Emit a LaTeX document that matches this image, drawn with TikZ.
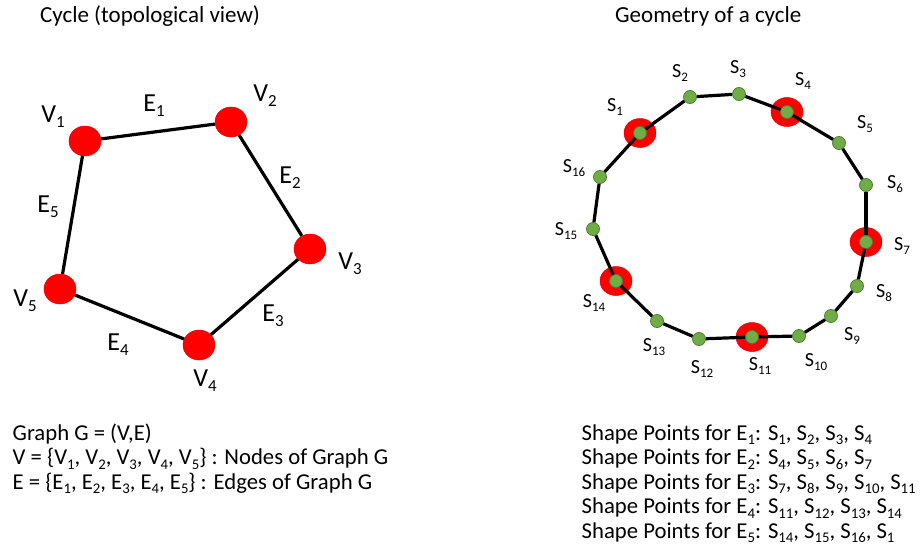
\documentclass[tikz,border=0pt]{standalone}
\usepackage{fontspec}
\setmainfont{Carlito}
\usetikzlibrary{shapes.geometric}
\definecolor{sgreen}{HTML}{70AD47}
\definecolor{sgreenD}{HTML}{507E32}
\newcommand\sbs[1]{\raisebox{-0.2em}{\scalebox{0.65}{#1}}}
\begin{document}
\begin{tikzpicture}[x=1pt,y=-1pt,
  vtx/.style={ellipse, fill=red, draw=red!90!black, line width=0.5pt, minimum width=32pt, minimum height=30pt, inner sep=0pt},
  bigv/.style={ellipse, fill=red, draw=red!90!black, line width=0.5pt, minimum width=32pt, minimum height=29pt, inner sep=0pt},
  sp/.style={circle, fill=sgreen, draw=sgreenD, line width=0.8pt, minimum size=13pt, inner sep=0pt},
  edg/.style={line width=3.2pt, black},
  vlab/.style={inner sep=0pt, font=\fontsize{26}{30}\selectfont},
  slab/.style={inner sep=0pt, font=\fontsize{20}{24}\selectfont},
  txt/.style={inner sep=0pt, anchor=base west, font=\fontsize{22.7}{26}\selectfont},
  ttl/.style={inner sep=0pt, anchor=base west, font=\fontsize{23}{26}\selectfont},
]
\useasboundingbox (0,0) rectangle (920,559);

% titles
\node[ttl] (t1) at (40,23) {Cycle (topological view)};
\node[ttl] (t2) at (615,23) {Geometry of a cycle};

% left graph
\node[vtx] (V1) at (85,141) {};
\node[vtx] (V2) at (231,122) {};
\node[vtx] (V3) at (310,249) {};
\node[vtx] (V4) at (199,345) {};
\node[vtx] (V5) at (60,289) {};
\draw[edg] (V1) -- (V2);
\draw[edg] (V2) -- (V3);
\draw[edg] (V3) -- (V4);
\draw[edg] (V4) -- (V5);
\draw[edg] (V5) -- (V1);

\node[vlab] (lv1) at (53,117) {V\sbs{1}};
\node[vlab] (lv2) at (265,96) {V\sbs{2}};
\node[vlab] (lv3) at (350,264) {V\sbs{3}};
\node[vlab] (lv4) at (205,381) {V\sbs{4}};
\node[vlab] (lv5) at (25,301) {V\sbs{5}};
\node[vlab] (le1) at (154,106) {E\sbs{1}};
\node[vlab] (le2) at (290,178) {E\sbs{2}};
\node[vlab] (le3) at (273,316) {E\sbs{3}};
\node[vlab] (le4) at (118,345) {E\sbs{4}};
\node[vlab] (le5) at (48,207) {E\sbs{5}};

% right graph: big red vertices
\node[bigv] (B1) at (640,133) {};
\node[bigv] (B4) at (787,112) {};
\node[bigv] (B7) at (866,242) {};
\node[bigv] (B11) at (752,337) {};
\node[bigv] (B14) at (616,281) {};

% shape points
\node[sp] (S1) at (640,133) {};
\node[sp] (S2) at (690,97) {};
\node[sp] (S3) at (739,94) {};
\node[sp] (S4) at (787,112) {};
\node[sp] (S5) at (839,143) {};
\node[sp] (S6) at (866,185) {};
\node[sp] (S7) at (866,242) {};
\node[sp] (S8) at (857,286) {};
\node[sp] (S9) at (831,316) {};
\node[sp] (S10) at (799,336) {};
\node[sp] (S11) at (752,337) {};
\node[sp] (S12) at (699,339) {};
\node[sp] (S13) at (657,321) {};
\node[sp] (S14) at (616,281) {};
\node[sp] (S15) at (593,229) {};
\node[sp] (S16) at (600,177) {};

\foreach \a/\b in {S1/S2,S2/S3,S3/S4,S4/S5,S5/S6,S6/S7,S7/S8,S8/S9,S9/S10,S10/S11,S11/S12,S12/S13,S13/S14,S14/S15,S15/S16,S16/S1}
  \draw[edg] (\a) -- (\b);

% shape point labels
\node[slab] (ls1) at (615,107) {S\sbs{1}};
\node[slab] (ls2) at (680,73) {S\sbs{2}};
\node[slab] (ls3) at (738,69) {S\sbs{3}};
\node[slab] (ls4) at (803,81) {S\sbs{4}};
\node[slab] (ls5) at (865,124) {S\sbs{5}};
\node[slab] (ls6) at (895,184) {S\sbs{6}};
\node[slab] (ls7) at (902,246) {S\sbs{7}};
\node[slab] (ls8) at (884,293) {S\sbs{8}};
\node[slab] (ls9) at (852,336) {S\sbs{9}};
\node[slab] (ls10) at (816,362) {S\sbs{10}};
\node[slab] (ls11) at (760,366) {S\sbs{11}};
\node[slab] (ls12) at (702,369) {S\sbs{12}};
\node[slab] (ls13) at (654,347) {S\sbs{13}};
\node[slab] (ls14) at (594,303) {S\sbs{14}};
\node[slab] (ls15) at (566,231) {S\sbs{15}};
\node[slab] (ls16) at (574,168) {S\sbs{16}};

% left text
\node[txt] (g1) at (12.5,440) {Graph G = (V,E)};
\node[txt] (g2) at (12.5,464.5) {V = \{V\sbs{1}, V\sbs{2}, V\sbs{3}, V\sbs{4}, V\sbs{5}\} : Nodes of Graph G};
\node[txt] (g3) at (12.5,489) {E = \{E\sbs{1}, E\sbs{2}, E\sbs{3}, E\sbs{4}, E\sbs{5}\} : Edges of Graph G};

% right text
\node[txt] (p1) at (581.5,440) {Shape Points for E\sbs{1}: S\sbs{1}, S\sbs{2}, S\sbs{3}, S\sbs{4}};
\node[txt] (p2) at (581.5,464.5) {Shape Points for E\sbs{2}: S\sbs{4}, S\sbs{5}, S\sbs{6}, S\sbs{7}};
\node[txt] (p3) at (581.5,489) {Shape Points for E\sbs{3}: S\sbs{7}, S\sbs{8}, S\sbs{9}, S\sbs{10}, S\sbs{11}};
\node[txt] (p4) at (581.5,513.5) {Shape Points for E\sbs{4}: S\sbs{11}, S\sbs{12}, S\sbs{13}, S\sbs{14}};
\node[txt] (p5) at (581.5,538) {Shape Points for E\sbs{5}: S\sbs{14}, S\sbs{15}, S\sbs{16}, S\sbs{1}};
\end{tikzpicture}
\end{document}
